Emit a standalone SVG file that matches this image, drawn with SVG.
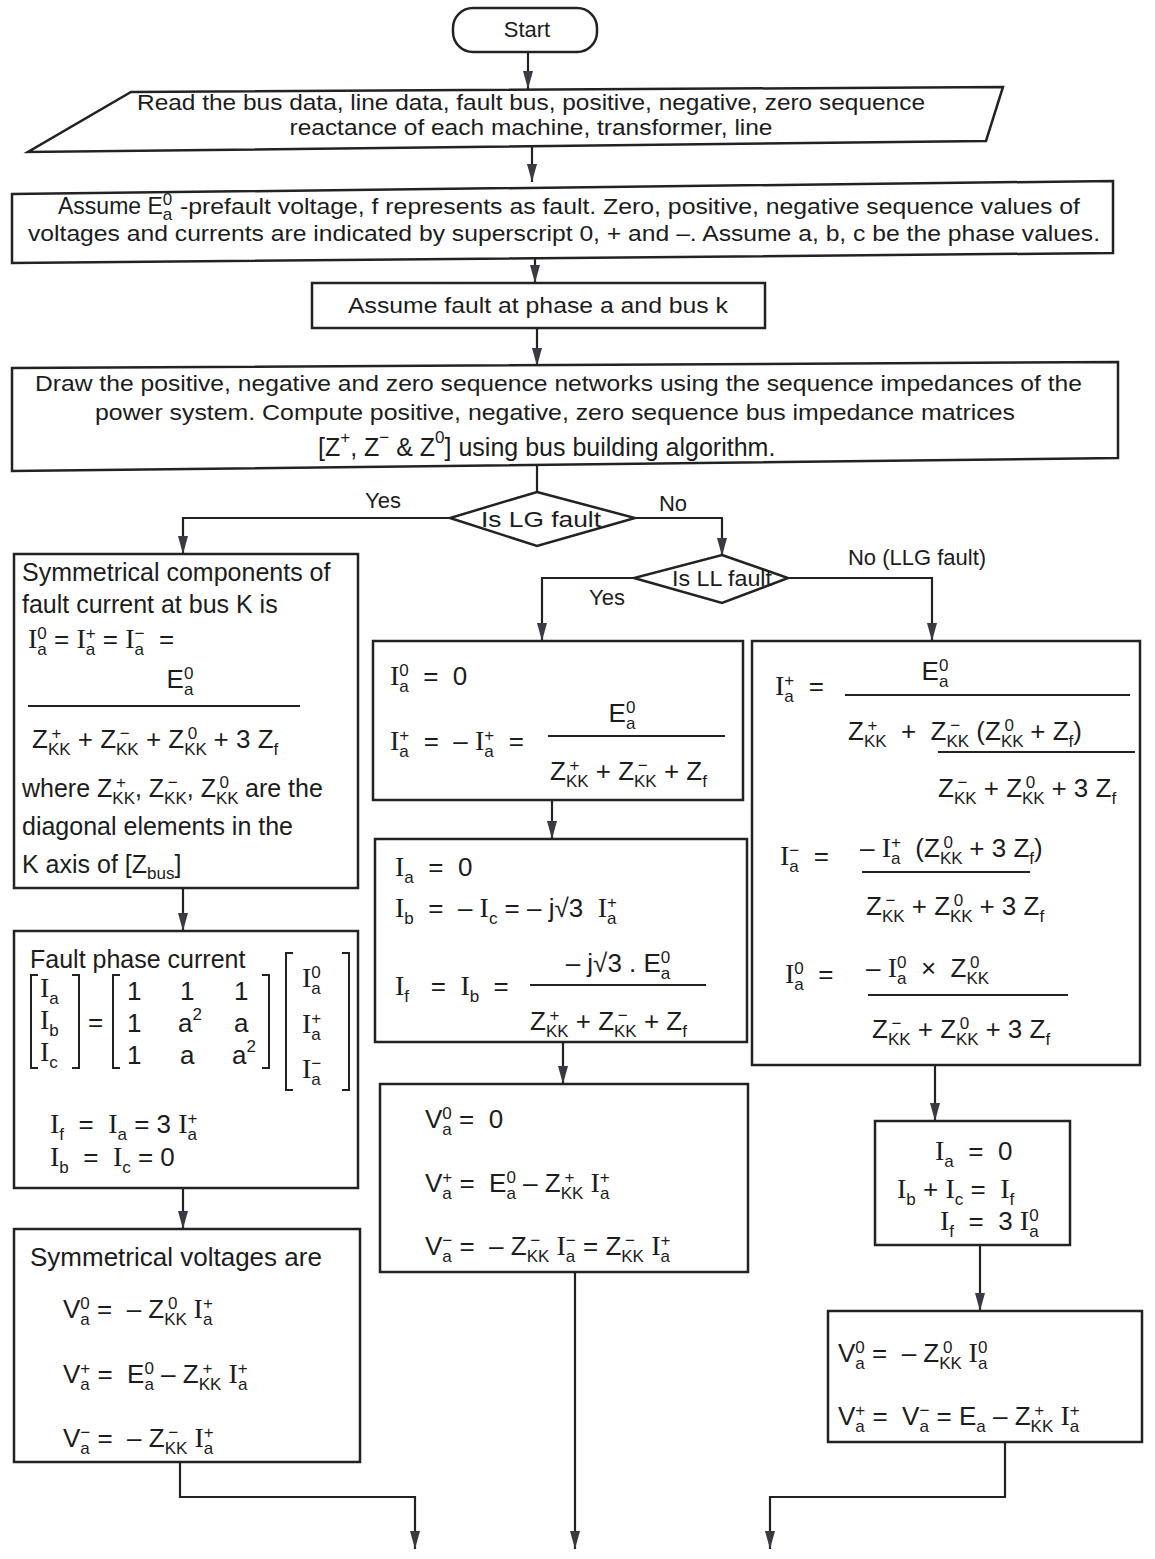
<svg xmlns="http://www.w3.org/2000/svg" width="1155" height="1559" viewBox="0 0 1155 1559">
<defs>
<marker id="ah" markerUnits="userSpaceOnUse" markerWidth="18" markerHeight="12" viewBox="0 0 18 12" refX="18" refY="6" orient="auto">
<path d="M0,1 L18,6 L0,11 z" fill="#3a3a44"/>
</marker>
<style>
text{font-family:"Liberation Sans",Arial,sans-serif;fill:#1c1c1c;white-space:pre}
.t{font-size:22px}
.b{font-size:25px}
.m{font-size:26px}
.s{font-size:17px}
.i{font-family:"Liberation Serif","Times New Roman",serif;font-size:28px}
.box{fill:#fff;stroke:#222;stroke-width:2.5}
.c{fill:none;stroke:#222;stroke-width:2.2}
.ca{fill:none;stroke:#222;stroke-width:2.2;marker-end:url(#ah)}
.fl{stroke:#222;stroke-width:1.8}
.br{fill:none;stroke:#222;stroke-width:2}
</style>
</defs>
<rect width="1155" height="1559" fill="#fff"/>

<g id="connectors">
<path class="ca" d="M528,52 V89"/>
<path class="ca" d="M532,146 V182"/>
<path class="ca" d="M535,257 V283"/>
<path class="ca" d="M537,328 V366"/>
<path class="c" d="M537,466 V492"/>
<path class="ca" d="M450,518 H183 V554"/>
<path class="ca" d="M635,518 H722 V556"/>
<path class="ca" d="M634,578 H542 V641"/>
<path class="ca" d="M788,578 H932 V641"/>
<path class="ca" d="M183,888 V931"/>
<path class="ca" d="M183,1188 V1229"/>
<path class="ca" d="M180,1462 V1497 H415 V1549"/>
<path class="ca" d="M552,800 V839"/>
<path class="ca" d="M563,1042 V1084"/>
<path class="ca" d="M575,1272 V1549"/>
<path class="ca" d="M935,1065 V1121"/>
<path class="ca" d="M980,1245 V1311"/>
<path class="ca" d="M1005,1442 V1497 H770 V1549"/>
<text class="t" x="383" y="508" text-anchor="middle">Yes</text>
<text class="t" x="673" y="511" text-anchor="middle">No</text>
<text class="t" x="607" y="605" text-anchor="middle">Yes</text>
<text class="t" x="917" y="565" text-anchor="middle">No (LLG fault)</text>
</g>

<g id="start">
<rect class="box" x="453" y="8" width="144" height="44" rx="20"/>
<text class="t" x="527" y="37" text-anchor="middle">Start</text>
</g>

<g id="read">
<polygon class="box" points="131,92 1003,87 986,141 28,152"/>
<text class="t" x="531" y="110" text-anchor="middle" textLength="788" lengthAdjust="spacingAndGlyphs">Read the bus data, line data, fault bus, positive, negative, zero sequence</text>
<text class="t" x="531" y="135" text-anchor="middle" textLength="483" lengthAdjust="spacingAndGlyphs">reactance of each machine, transformer, line</text>
</g>

<g id="assume">
<polygon class="box" points="12,194 1113,181 1113,253 12,263"/>
<text class="t" x="58" y="214" style="font-size:23px">Assume E<tspan class="s" dy="6">a</tspan><tspan class="s" dx="-9.5" dy="-15">0</tspan></text>
<text class="t" x="180" y="214" textLength="900" lengthAdjust="spacingAndGlyphs">-prefault voltage, f represents as fault. Zero, positive, negative sequence values of</text>
<text class="t" x="28" y="241" textLength="1072" lengthAdjust="spacingAndGlyphs">voltages and currents are indicated by superscript 0, + and –. Assume a, b, c be the phase values.</text>
</g>

<g id="faultpos">
<rect class="box" x="312" y="283" width="453" height="45"/>
<text class="t" x="538" y="313" text-anchor="middle" textLength="380" lengthAdjust="spacingAndGlyphs">Assume fault at phase a and bus k</text>
</g>

<g id="draw">
<polygon class="box" points="12,368 1118,362 1118,458 12,471"/>
<text class="t" x="35" y="391" textLength="1047" lengthAdjust="spacingAndGlyphs">Draw the positive, negative and zero sequence networks using the sequence impedances of the</text>
<text class="t" x="95" y="420" textLength="920" lengthAdjust="spacingAndGlyphs">power system. Compute positive, negative, zero sequence bus impedance matrices</text>
<text class="t" x="318" y="456" style="font-size:25px">[Z<tspan class="s" dy="-13">+</tspan><tspan dy="13">, Z</tspan><tspan class="s" dy="-13">−</tspan><tspan dy="13"> &amp; Z</tspan><tspan class="s" dy="-13">0</tspan><tspan dy="13">] using bus building algorithm.</tspan></text>
</g>

<g id="isLG">
<polygon class="box" points="537,492 635,518 537,546 450,518"/>
<text class="t" x="541" y="527" text-anchor="middle" textLength="120" lengthAdjust="spacingAndGlyphs">Is LG fault</text>
</g>

<g id="isLL">
<polygon class="box" points="722,555 788,578 722,603 634,578"/>
<text class="t" x="722" y="586" text-anchor="middle" textLength="100" lengthAdjust="spacingAndGlyphs">Is LL fault</text>
</g>

<g id="lg-components">
<rect class="box" x="14" y="554" width="344" height="334"/>
<text class="b" x="22" y="581">Symmetrical components of</text>
<text class="b" x="22" y="613">fault current at bus K is</text>
<text class="m" x="28" y="648"><tspan class="i">I</tspan><tspan class="s" dy="7">a</tspan><tspan class="s" dx="-9.5" dy="-16">0</tspan><tspan dy="9"> = </tspan><tspan class="i">I</tspan><tspan class="s" dy="7">a</tspan><tspan class="s" dx="-9.5" dy="-16">+</tspan><tspan dy="9"> = </tspan><tspan class="i">I</tspan><tspan class="s" dy="7">a</tspan><tspan class="s" dx="-9.5" dy="-16">−</tspan><tspan dy="9">  =</tspan></text>
<text class="m" x="180" y="688" text-anchor="middle">E<tspan class="s" dy="7">a</tspan><tspan class="s" dx="-9.5" dy="-16">0</tspan></text>
<line class="fl" x1="28" y1="706" x2="300" y2="706"/>
<text class="m" x="32" y="748">Z<tspan class="s" dy="7">KK</tspan><tspan class="s" dx="-19" dy="-16">+</tspan><tspan dx="9" dy="9"> + Z</tspan><tspan class="s" dy="7">KK</tspan><tspan class="s" dx="-19" dy="-16">−</tspan><tspan dx="9" dy="9"> + Z</tspan><tspan class="s" dy="7">KK</tspan><tspan class="s" dx="-19" dy="-16">0</tspan><tspan dx="9" dy="9"> + 3 Z</tspan><tspan class="s" dy="7">f</tspan></text>
<text class="b" x="22" y="797">where Z<tspan class="s" dy="7">KK</tspan><tspan class="s" dx="-19" dy="-16">+</tspan><tspan dx="9" dy="9">, Z</tspan><tspan class="s" dy="7">KK</tspan><tspan class="s" dx="-19" dy="-16">−</tspan><tspan dx="9" dy="9">, Z</tspan><tspan class="s" dy="7">KK</tspan><tspan class="s" dx="-19" dy="-16">0</tspan><tspan dx="9" dy="9"> are the</tspan></text>
<text class="b" x="22" y="835">diagonal elements in the</text>
<text class="b" x="22" y="873">K axis of [Z<tspan class="s" dy="6">bus</tspan><tspan dy="-6">]</tspan></text>
</g>

<g id="lg-phase-current">
<rect class="box" x="14" y="931" width="344" height="257"/>
<text class="b" x="30" y="968">Fault phase current</text>
<path class="br" d="M38,975 H31 V1068 H38 M72,975 H79 V1068 H72"/>
<text class="m" x="40" y="997"><tspan class="i">I</tspan><tspan class="s" dy="7">a</tspan></text>
<text class="m" x="40" y="1029"><tspan class="i">I</tspan><tspan class="s" dy="7">b</tspan></text>
<text class="m" x="40" y="1061"><tspan class="i">I</tspan><tspan class="s" dy="7">c</tspan></text>
<text class="m" x="88" y="1031">=</text>
<path class="br" d="M120,975 H113 V1068 H120 M262,975 H269 V1068 H262"/>
<text class="m" x="127" y="1000">1</text>
<text class="m" x="180" y="1000">1</text>
<text class="m" x="234" y="1000">1</text>
<text class="m" x="127" y="1032">1</text>
<text class="m" x="178" y="1032">a<tspan class="s" dy="-12">2</tspan></text>
<text class="m" x="234" y="1032">a</text>
<text class="m" x="127" y="1064">1</text>
<text class="m" x="180" y="1064">a</text>
<text class="m" x="232" y="1064">a<tspan class="s" dy="-12">2</tspan></text>
<path class="br" d="M293,953 H286 V1090 H293 M342,953 H349 V1090 H342"/>
<text class="m" x="302" y="987"><tspan class="i">I</tspan><tspan class="s" dy="7">a</tspan><tspan class="s" dx="-9.5" dy="-16">0</tspan></text>
<text class="m" x="302" y="1033"><tspan class="i">I</tspan><tspan class="s" dy="7">a</tspan><tspan class="s" dx="-9.5" dy="-16">+</tspan></text>
<text class="m" x="302" y="1078"><tspan class="i">I</tspan><tspan class="s" dy="7">a</tspan><tspan class="s" dx="-9.5" dy="-16">−</tspan></text>
<text class="m" x="50" y="1133"><tspan class="i">I</tspan><tspan class="s" dy="7">f</tspan><tspan dy="-7">  =  </tspan><tspan class="i">I</tspan><tspan class="s" dy="7">a</tspan><tspan dy="-7"> = 3 </tspan><tspan class="i">I</tspan><tspan class="s" dy="7">a</tspan><tspan class="s" dx="-9.5" dy="-16">+</tspan></text>
<text class="m" x="50" y="1166"><tspan class="i">I</tspan><tspan class="s" dy="7">b</tspan><tspan dy="-7">  =  </tspan><tspan class="i">I</tspan><tspan class="s" dy="7">c</tspan><tspan dy="-7"> = 0</tspan></text>
</g>

<g id="lg-voltages">
<rect class="box" x="14" y="1229" width="346" height="233"/>
<text class="b" x="30" y="1266" style="font-size:26px">Symmetrical voltages are</text>
<text class="m" x="63" y="1318">V<tspan class="s" dy="7">a</tspan><tspan class="s" dx="-9.5" dy="-16">0</tspan><tspan dy="9"> =  – Z</tspan><tspan class="s" dy="7">KK</tspan><tspan class="s" dx="-19" dy="-16">0</tspan><tspan dx="9" dy="9"> </tspan><tspan class="i">I</tspan><tspan class="s" dy="7">a</tspan><tspan class="s" dx="-9.5" dy="-16">+</tspan></text>
<text class="m" x="63" y="1383">V<tspan class="s" dy="7">a</tspan><tspan class="s" dx="-9.5" dy="-16">+</tspan><tspan dy="9"> =  E</tspan><tspan class="s" dy="7">a</tspan><tspan class="s" dx="-9.5" dy="-16">0</tspan><tspan dy="9"> – Z</tspan><tspan class="s" dy="7">KK</tspan><tspan class="s" dx="-19" dy="-16">+</tspan><tspan dx="9" dy="9"> </tspan><tspan class="i">I</tspan><tspan class="s" dy="7">a</tspan><tspan class="s" dx="-9.5" dy="-16">+</tspan></text>
<text class="m" x="63" y="1447">V<tspan class="s" dy="7">a</tspan><tspan class="s" dx="-9.5" dy="-16">−</tspan><tspan dy="9"> =  – Z</tspan><tspan class="s" dy="7">KK</tspan><tspan class="s" dx="-19" dy="-16">−</tspan><tspan dx="9" dy="9"> </tspan><tspan class="i">I</tspan><tspan class="s" dy="7">a</tspan><tspan class="s" dx="-9.5" dy="-16">+</tspan></text>
</g>

<g id="ll-currents">
<rect class="box" x="373" y="641" width="370" height="159"/>
<text class="m" x="390" y="685"><tspan class="i">I</tspan><tspan class="s" dy="7">a</tspan><tspan class="s" dx="-9.5" dy="-16">0</tspan><tspan dy="9">  =  0</tspan></text>
<text class="m" x="390" y="750"><tspan class="i">I</tspan><tspan class="s" dy="7">a</tspan><tspan class="s" dx="-9.5" dy="-16">+</tspan><tspan dy="9">  =  – </tspan><tspan class="i">I</tspan><tspan class="s" dy="7">a</tspan><tspan class="s" dx="-9.5" dy="-16">+</tspan><tspan dy="9">  =</tspan></text>
<text class="m" x="622" y="722" text-anchor="middle">E<tspan class="s" dy="7">a</tspan><tspan class="s" dx="-9.5" dy="-16">0</tspan></text>
<line class="fl" x1="548" y1="736" x2="725" y2="736"/>
<text class="m" x="550" y="780">Z<tspan class="s" dy="7">KK</tspan><tspan class="s" dx="-19" dy="-16">+</tspan><tspan dx="9" dy="9"> + Z</tspan><tspan class="s" dy="7">KK</tspan><tspan class="s" dx="-19" dy="-16">−</tspan><tspan dx="9" dy="9"> + Z</tspan><tspan class="s" dy="7">f</tspan></text>
</g>

<g id="ll-phase">
<rect class="box" x="375" y="839" width="372" height="203"/>
<text class="m" x="395" y="876"><tspan class="i">I</tspan><tspan class="s" dy="7">a</tspan><tspan dy="-7">  =  0</tspan></text>
<text class="m" x="395" y="917"><tspan class="i">I</tspan><tspan class="s" dy="7">b</tspan><tspan dy="-7">  =  – </tspan><tspan class="i">I</tspan><tspan class="s" dy="7">c</tspan><tspan dy="-7"> = – j√3  </tspan><tspan class="i">I</tspan><tspan class="s" dy="7">a</tspan><tspan class="s" dx="-9.5" dy="-16">+</tspan></text>
<text class="m" x="395" y="995"><tspan class="i">I</tspan><tspan class="s" dy="7">f</tspan><tspan dy="-7">   =  </tspan><tspan class="i">I</tspan><tspan class="s" dy="7">b</tspan><tspan dy="-7">  =</tspan></text>
<text class="m" x="618" y="972" text-anchor="middle">– j√3 . E<tspan class="s" dy="7">a</tspan><tspan class="s" dx="-9.5" dy="-16">0</tspan></text>
<line class="fl" x1="530" y1="985" x2="706" y2="985"/>
<text class="m" x="530" y="1030">Z<tspan class="s" dy="7">KK</tspan><tspan class="s" dx="-19" dy="-16">+</tspan><tspan dx="9" dy="9"> + Z</tspan><tspan class="s" dy="7">KK</tspan><tspan class="s" dx="-19" dy="-16">−</tspan><tspan dx="9" dy="9"> + Z</tspan><tspan class="s" dy="7">f</tspan></text>
</g>

<g id="ll-voltages">
<rect class="box" x="380" y="1084" width="368" height="188"/>
<text class="m" x="425" y="1128">V<tspan class="s" dy="7">a</tspan><tspan class="s" dx="-9.5" dy="-16">0</tspan><tspan dy="9"> =  0</tspan></text>
<text class="m" x="425" y="1192">V<tspan class="s" dy="7">a</tspan><tspan class="s" dx="-9.5" dy="-16">+</tspan><tspan dy="9"> =  E</tspan><tspan class="s" dy="7">a</tspan><tspan class="s" dx="-9.5" dy="-16">0</tspan><tspan dy="9"> – Z</tspan><tspan class="s" dy="7">KK</tspan><tspan class="s" dx="-19" dy="-16">+</tspan><tspan dx="9" dy="9"> </tspan><tspan class="i">I</tspan><tspan class="s" dy="7">a</tspan><tspan class="s" dx="-9.5" dy="-16">+</tspan></text>
<text class="m" x="425" y="1255">V<tspan class="s" dy="7">a</tspan><tspan class="s" dx="-9.5" dy="-16">−</tspan><tspan dy="9"> =  – Z</tspan><tspan class="s" dy="7">KK</tspan><tspan class="s" dx="-19" dy="-16">−</tspan><tspan dx="9" dy="9"> </tspan><tspan class="i">I</tspan><tspan class="s" dy="7">a</tspan><tspan class="s" dx="-9.5" dy="-16">−</tspan><tspan dy="9"> = Z</tspan><tspan class="s" dy="7">KK</tspan><tspan class="s" dx="-19" dy="-16">−</tspan><tspan dx="9" dy="9"> </tspan><tspan class="i">I</tspan><tspan class="s" dy="7">a</tspan><tspan class="s" dx="-9.5" dy="-16">+</tspan></text>
</g>

<g id="llg-currents">
<rect class="box" x="752" y="641" width="388" height="424"/>
<text class="m" x="775" y="695"><tspan class="i">I</tspan><tspan class="s" dy="7">a</tspan><tspan class="s" dx="-9.5" dy="-16">+</tspan><tspan dy="9">  =</tspan></text>
<text class="m" x="935" y="680" text-anchor="middle">E<tspan class="s" dy="7">a</tspan><tspan class="s" dx="-9.5" dy="-16">0</tspan></text>
<line class="fl" x1="845" y1="695" x2="1130" y2="695"/>
<text class="m" x="848" y="740">Z<tspan class="s" dy="7">KK</tspan><tspan class="s" dx="-19" dy="-16">+</tspan><tspan dx="9" dy="9">  +  Z</tspan><tspan class="s" dy="7">KK</tspan><tspan class="s" dx="-19" dy="-16">−</tspan><tspan dx="9" dy="9"> (Z</tspan><tspan class="s" dy="7">KK</tspan><tspan class="s" dx="-19" dy="-16">0</tspan><tspan dx="9" dy="9"> + Z</tspan><tspan class="s" dy="7">f</tspan><tspan dy="-7">)</tspan></text>
<line class="fl" x1="938" y1="752" x2="1135" y2="752"/>
<text class="m" x="938" y="797">Z<tspan class="s" dy="7">KK</tspan><tspan class="s" dx="-19" dy="-16">−</tspan><tspan dx="9" dy="9"> + Z</tspan><tspan class="s" dy="7">KK</tspan><tspan class="s" dx="-19" dy="-16">0</tspan><tspan dx="9" dy="9"> + 3 Z</tspan><tspan class="s" dy="7">f</tspan></text>
<text class="m" x="780" y="865"><tspan class="i">I</tspan><tspan class="s" dy="7">a</tspan><tspan class="s" dx="-9.5" dy="-16">−</tspan><tspan dy="9">  =</tspan></text>
<text class="m" x="860" y="857">– <tspan class="i">I</tspan><tspan class="s" dy="7">a</tspan><tspan class="s" dx="-9.5" dy="-16">+</tspan><tspan dy="9">  (Z</tspan><tspan class="s" dy="7">KK</tspan><tspan class="s" dx="-19" dy="-16">0</tspan><tspan dx="9" dy="9"> + 3 Z</tspan><tspan class="s" dy="7">f</tspan><tspan dy="-7">)</tspan></text>
<line class="fl" x1="862" y1="872" x2="1030" y2="872"/>
<text class="m" x="866" y="915">Z<tspan class="s" dy="7">KK</tspan><tspan class="s" dx="-19" dy="-16">−</tspan><tspan dx="9" dy="9"> + Z</tspan><tspan class="s" dy="7">KK</tspan><tspan class="s" dx="-19" dy="-16">0</tspan><tspan dx="9" dy="9"> + 3 Z</tspan><tspan class="s" dy="7">f</tspan></text>
<text class="m" x="785" y="983"><tspan class="i">I</tspan><tspan class="s" dy="7">a</tspan><tspan class="s" dx="-9.5" dy="-16">0</tspan><tspan dy="9">  =</tspan></text>
<text class="m" x="866" y="977">– <tspan class="i">I</tspan><tspan class="s" dy="7">a</tspan><tspan class="s" dx="-9.5" dy="-16">0</tspan><tspan dy="9">  ×  Z</tspan><tspan class="s" dy="7">KK</tspan><tspan class="s" dx="-19" dy="-16">0</tspan></text>
<line class="fl" x1="868" y1="995" x2="1068" y2="995"/>
<text class="m" x="872" y="1038">Z<tspan class="s" dy="7">KK</tspan><tspan class="s" dx="-19" dy="-16">−</tspan><tspan dx="9" dy="9"> + Z</tspan><tspan class="s" dy="7">KK</tspan><tspan class="s" dx="-19" dy="-16">0</tspan><tspan dx="9" dy="9"> + 3 Z</tspan><tspan class="s" dy="7">f</tspan></text>
</g>

<g id="llg-phase">
<rect class="box" x="875" y="1121" width="195" height="124"/>
<text class="m" x="935" y="1160"><tspan class="i">I</tspan><tspan class="s" dy="7">a</tspan><tspan dy="-7">  =  0</tspan></text>
<text class="m" x="897" y="1198"><tspan class="i">I</tspan><tspan class="s" dy="7">b</tspan><tspan dy="-7"> + </tspan><tspan class="i">I</tspan><tspan class="s" dy="7">c</tspan><tspan dy="-7"> =  </tspan><tspan class="i">I</tspan><tspan class="s" dy="7">f</tspan></text>
<text class="m" x="940" y="1230"><tspan class="i">I</tspan><tspan class="s" dy="7">f</tspan><tspan dy="-7">  =  3 </tspan><tspan class="i">I</tspan><tspan class="s" dy="7">a</tspan><tspan class="s" dx="-9.5" dy="-16">0</tspan></text>
</g>

<g id="llg-voltages">
<rect class="box" x="828" y="1311" width="314" height="131"/>
<text class="m" x="838" y="1362">V<tspan class="s" dy="7">a</tspan><tspan class="s" dx="-9.5" dy="-16">0</tspan><tspan dy="9"> =  – Z</tspan><tspan class="s" dy="7">KK</tspan><tspan class="s" dx="-19" dy="-16">0</tspan><tspan dx="9" dy="9"> </tspan><tspan class="i">I</tspan><tspan class="s" dy="7">a</tspan><tspan class="s" dx="-9.5" dy="-16">0</tspan></text>
<text class="m" x="838" y="1425">V<tspan class="s" dy="7">a</tspan><tspan class="s" dx="-9.5" dy="-16">+</tspan><tspan dy="9"> =  V</tspan><tspan class="s" dy="7">a</tspan><tspan class="s" dx="-9.5" dy="-16">−</tspan><tspan dy="9"> = E</tspan><tspan class="s" dy="7">a</tspan><tspan dy="-7"> – Z</tspan><tspan class="s" dy="7">KK</tspan><tspan class="s" dx="-19" dy="-16">+</tspan><tspan dx="9" dy="9"> </tspan><tspan class="i">I</tspan><tspan class="s" dy="7">a</tspan><tspan class="s" dx="-9.5" dy="-16">+</tspan></text>
</g>
</svg>
